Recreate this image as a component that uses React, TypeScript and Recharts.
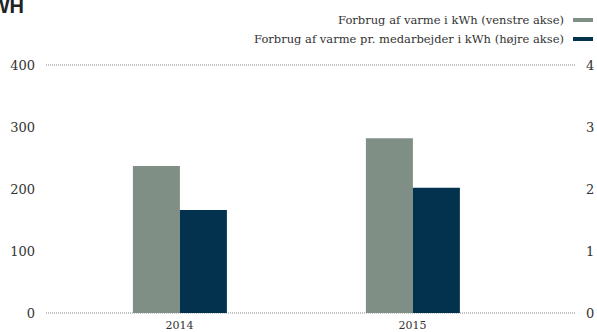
import React from "react";
import { BarChart, Bar, XAxis, YAxis, CartesianGrid } from "recharts";

// Varmeforbrug 2014–2015, venstre akse i kWh, højre akse pr. medarbejder

const years = ["2014", "2015"];
const varmeTotal = [237, 282];
const varmePrMedarbejder = [1.66, 2.02];
const leftTicks = [0, 100, 200, 300, 400];
const rightTicks = [0, 1, 2, 3, 4];

const grey = "#7f8f86";
const navy = "#02324e";
const serif = "'DejaVu Serif', Georgia, serif";

const series = [
  { label: "Forbrug af varme i kWh (venstre akse)", color: grey },
  { label: "Forbrug af varme pr. medarbejder i kWh (højre akse)", color: navy },
];

const data = years.map((year, i) => ({
  year,
  total: varmeTotal[i],
  perEmployee: varmePrMedarbejder[i],
}));

export default function App() {
  const tick = { fill: "#333", fontSize: 13, fontFamily: serif };
  return (
    <div style={{ position: "relative", width: 597, height: 332, overflow: "hidden", background: "#fff" }}>
      <style>{`body{margin:0}`}</style>
      <svg width={60} height={30} style={{ position: "absolute", left: 0, top: 0 }}>
        <text x={24} y={13} textAnchor="end" fontFamily="'Liberation Sans', Arial, sans-serif" fontWeight="bold" fontSize={20} fill="#222">
          KWH
        </text>
      </svg>
      <div style={{ position: "absolute", right: 4, top: 10, fontFamily: serif, fontSize: 11.5, color: "#333" }}>
        {series.map((s) => (
          <div key={s.label} style={{ display: "flex", alignItems: "center", justifyContent: "flex-end", height: 19 }}>
            <span>{s.label}</span>
            <span style={{ display: "inline-block", width: 20, height: 4, background: s.color, marginLeft: 9 }} />
          </div>
        ))}
      </div>
      <BarChart
        width={597}
        height={332}
        data={data}
        margin={{ top: 65, right: 0, bottom: 0, left: 0 }}
        barCategoryGap="30%"
        barGap={0}
      >
        <CartesianGrid vertical={false} stroke="#8a8a8a" strokeDasharray="1 1" />
        <XAxis
          dataKey="year"
          height={19}
          axisLine={false}
          tickLine={false}
          tickSize={0}
          tickMargin={8}
          padding={{ left: 17, right: 46 }}
          tick={{ ...tick, fontSize: 11 }}
        />
        <YAxis
          yAxisId="left"
          orientation="left"
          width={46}
          domain={[0, 400]}
          ticks={leftTicks}
          axisLine={false}
          tickLine={false}
          tickSize={0}
          tickMargin={11}
          tick={tick}
        />
        <YAxis
          yAxisId="right"
          orientation="right"
          width={22}
          domain={[0, 4]}
          ticks={rightTicks}
          axisLine={false}
          tickLine={false}
          tickSize={0}
          tickMargin={11}
          tick={tick}
        />
        <Bar yAxisId="left" dataKey="total" fill={grey} isAnimationActive={false} />
        <Bar yAxisId="right" dataKey="perEmployee" fill={navy} isAnimationActive={false} />
      </BarChart>
    </div>
  );
}
